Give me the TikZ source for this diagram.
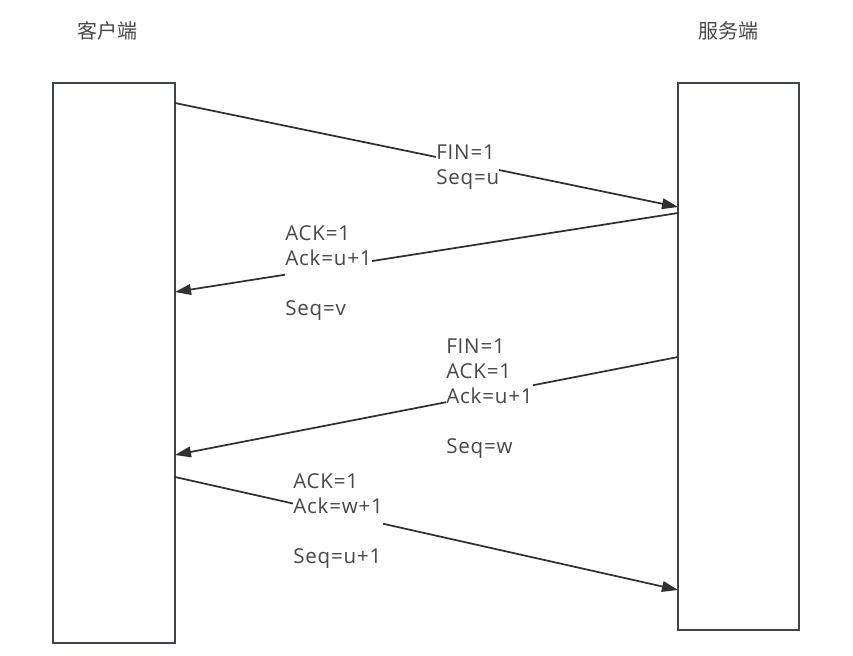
\documentclass[tikz,border=0pt]{standalone}
\usepackage{fontspec}
\setmainfont[LetterSpace=4]{Open Sans}
\newfontfamily\cjk{Noto Sans CJK SC}
\usetikzlibrary{arrows.meta}
\definecolor{txt}{HTML}{474747}
\definecolor{ln}{HTML}{303030}
\definecolor{bx}{HTML}{3F444B}
\begin{document}
\begin{tikzpicture}[x=0.75pt,y=-0.75pt,
  lifebox/.style={draw=bx,line width=1.5pt,inner sep=0pt,outer sep=0pt,anchor=north west},
  msg/.style={draw=ln,line width=1.3pt,-{Triangle[length=12pt,width=8pt]}},
  lbl/.style={fill=white,inner sep=0pt,anchor=north west,align=left,text=txt,
    font=\fontsize{15.4pt}{18.75pt}\selectfont},
  title/.style={text=txt,inner sep=0pt,font=\cjk\fontsize{15pt}{18pt}\selectfont}]
\useasboundingbox (0,0) rectangle (853,656);
% titles
\node[title] (tc) at (107,31) {客户端};
\node[title] (ts) at (728,31) {服务端};
% lifeline boxes
\node[lifebox,minimum width=91.5pt,minimum height=420pt] (client) at (53,83) {};
\node[lifebox,minimum width=90.75pt,minimum height=410.25pt] (server) at (678,83) {};
% end points
\coordinate (c1) at (175,103);
\coordinate (s1) at (678,207);
\coordinate (s2) at (678,213);
\coordinate (c2) at (175,292);
\coordinate (s3) at (678,357);
\coordinate (c3) at (175,455);
\coordinate (c4) at (175,477);
\coordinate (s4) at (678,590);
% messages
\draw[msg] (c1) -- (s1);
\draw[msg] (s2) -- (c2);
\draw[msg] (s3) -- (c3);
\draw[msg] (c4) -- (s4);
% labels
\node[lbl] (l1) at (436,145) {FIN=1\\Seq=u};
\node[lbl] (l2) at (285,225) {ACK=1\\Ack=u+1\\[18.75pt]Seq=v};
\node[lbl] (l3) at (446,339) {FIN=1\\ACK=1\\Ack=u+1\\[18.75pt]Seq=w};
\node[lbl] (l4) at (293,473) {ACK=1\\Ack=w+1\\[18.75pt]Seq=u+1};
\end{tikzpicture}
\end{document}
